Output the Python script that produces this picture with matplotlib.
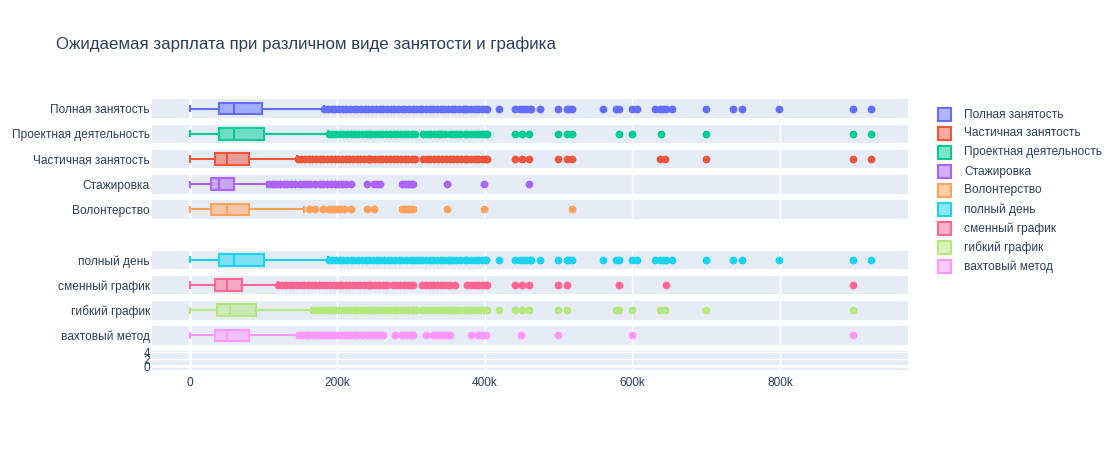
import matplotlib.pyplot as plt
from matplotlib.colors import to_rgba
from matplotlib.patches import Rectangle

plt.rcParams['font.family'] = ['Liberation Sans', 'DejaVu Sans']

TEXT = '#2a3f5f'
BG = '#E5ECF6'

title = 'Ожидаемая зарплата при различном виде занятости и графика'

# traces in legend order (salary in thousands)
names = ['Полная занятость', 'Частичная занятость', 'Проектная деятельность',
         'Стажировка', 'Волонтерство', 'полный день', 'сменный график',
         'гибкий график', 'вахтовый метод']
colors = ['#636efa', '#EF553B', '#00cc96', '#ab63fa', '#FFA15A',
          '#19d3f3', '#FF6692', '#B6E880', '#FF97FF']
slots = [0, 2, 1, 3, 4, 6, 7, 8, 9]

whis_lo = [0, 0, 0, 0, 0, 0, 0, 0, 0]
q1 = [39, 34, 39, 29, 29, 39, 34, 36, 34]
median = [60, 50, 60, 39, 50, 60, 50, 54, 50]
q3 = [98, 80, 100, 60, 80, 100, 70, 90, 80]
whis_hi = [182, 145, 187, 104, 154, 187, 119, 166, 145]

out_full = [182, 187, 192, 197, 202, 207, 212, 217, 222, 227, 232, 237, 242, 247, 252,
            257, 262, 267, 272, 277, 282, 287, 292, 297, 302, 307, 312,
            315, 320, 325, 330, 335, 340, 345, 350, 355, 360, 365, 370, 373,
            376, 381, 386, 391, 396, 400, 403,
            419, 441, 448, 451, 456, 461, 463, 475, 499, 511, 514, 518, 560, 578, 582,
            599, 606, 631, 637, 642, 646, 653, 700, 736, 749, 799, 899, 923]
out_part = [146, 151, 156, 161, 166, 171, 176, 181, 186, 191, 196, 201, 206, 211, 216,
            221, 226, 231, 236, 241, 243,
            246, 251, 256, 261, 266, 271, 276, 281, 286, 291, 296, 301, 305,
            316, 321, 326, 331, 336, 342, 347, 352, 357, 362, 367, 373,
            376, 381, 386, 391, 396, 400, 403,
            441, 450, 460, 499, 511, 518, 637, 644, 700, 899, 923]
out_proj = [188, 193, 198, 203, 208, 213, 218, 223, 228, 233, 238, 243,
            246, 251, 256, 261, 266, 271, 276, 281, 286, 291, 296, 301, 305,
            316, 321, 326, 331, 336, 341, 346, 352, 356, 361, 366, 373,
            376, 381, 386, 391, 396, 400, 403,
            441, 450, 460, 499, 511, 518, 582, 599, 639, 700, 899, 923]
out_intern = [107, 112, 117, 122, 127, 132, 137, 142, 149, 154, 159, 163, 170,
              176, 181, 186, 191, 196, 201, 206, 212, 219, 240, 249, 253, 258,
              288, 292, 296, 300, 303, 349, 399, 460]
out_volunteer = [162, 170, 180, 189, 193, 197, 201, 203, 209, 219, 240, 250,
                 287, 291, 295, 299, 303, 349, 399, 518]
out_fullday = [188, 193, 198, 203, 208, 213, 218, 223, 228, 233, 238, 243, 248, 253, 258,
               263, 268, 273, 278, 283, 288, 293, 298, 303, 307, 310,
               315, 320, 325, 330, 335, 340, 345, 350, 352, 356, 361, 366, 373,
               376, 381, 386, 391, 396, 400, 402,
               419, 441, 448, 451, 456, 461, 463, 475, 499, 511, 514, 518, 560, 578, 582,
               599, 606, 631, 637, 642, 646, 653, 700, 736, 749, 799, 899, 923]
out_shift = [120, 125, 130, 135, 140, 145, 150, 155, 160, 165, 170, 175, 180, 185, 190,
             195, 200, 203, 206, 211, 216, 221, 226, 231, 236, 241, 243,
             246, 251, 256, 262, 267, 275, 280, 285, 290, 295, 300, 303,
             315, 320, 325, 330, 335, 340, 345, 350, 352, 359,
             376, 381, 386, 391, 396, 400, 403,
             441, 450, 460, 499, 511, 582, 645, 899]
out_flex = [167, 172, 177, 182, 187, 192, 197, 202, 207, 212, 217, 222, 227, 232, 237, 243,
            246, 251, 256, 261, 266, 271, 276, 281, 286, 291, 296, 301, 303, 307,
            315, 320, 325, 330, 335, 340, 345, 350, 352, 356, 361, 366, 373,
            376, 381, 386, 391, 396, 400, 403,
            419, 441, 450, 460, 499, 511, 578, 582, 599, 637, 644, 700, 899]
out_shiftwork = [148, 152, 157, 162, 167, 172, 177, 182, 187, 192, 197, 202,
                 207, 212, 217, 222, 227, 233, 240, 246, 251, 256, 262, 278,
                 288, 293, 298, 302, 320, 330, 335, 340, 345, 350, 353, 381,
                 391, 396, 402, 449, 499, 599, 899]
outliers = [out_full, out_part, out_proj, out_intern, out_volunteer,
            out_fullday, out_shift, out_flex, out_shiftwork]

xticks = [0, 200, 400, 600, 800]
xtick_labels = ['0', '200k', '400k', '600k', '800k']
last_yticks = [0, 2, 4]

W, H = 1119, 450
fig = plt.figure(figsize=(W / 100, H / 100), dpi=100)

left, right = 152, 908
pitch, band_h, first_center = 25.2, 18.6, 108.6
FS = 8.6


def make_axes(slot):
    c = first_center + pitch * slot
    ax = fig.add_axes([left / W, 1 - (c + band_h / 2) / H,
                       (right - left) / W, band_h / H])
    ax.set_facecolor(BG)
    for s in ax.spines.values():
        s.set_visible(False)
    ax.set_xlim(-51.5, 973.6)
    ax.set_xticks(xticks)
    ax.grid(axis='x', color='white', linewidth=1, zorder=0)
    ax.axvline(0, color='white', linewidth=2, zorder=0.5)
    ax.set_axisbelow(True)
    ax.tick_params(length=0, labelsize=FS, labelcolor=TEXT, pad=1.5)
    return ax


for i, name in enumerate(names):
    ax = make_axes(slots[i])
    col = colors[i]
    stats = [dict(med=median[i], q1=q1[i], q3=q3[i], whislo=whis_lo[i],
                  whishi=whis_hi[i], fliers=outliers[i])]
    ax.bxp(stats, positions=[0], widths=0.62, capwidths=0.28,
           orientation='horizontal', patch_artist=True, showfliers=True,
           boxprops=dict(facecolor=to_rgba(col, 0.5), edgecolor=col, linewidth=1.5),
           medianprops=dict(color=col, linewidth=1.5),
           whiskerprops=dict(color=col, linewidth=1.5),
           capprops=dict(color=col, linewidth=1.5),
           flierprops=dict(marker='o', markersize=4.6, markerfacecolor=col,
                           markeredgecolor=col, linestyle='none'))
    ax.set_ylim(-0.5, 0.5)
    ax.set_yticks([0])
    ax.set_yticklabels([name])
    ax.set_xticklabels([])

# empty bottom subplot carrying the x axis
ax = make_axes(10)
ax.set_ylim(-1.1, 4.2)
ax.set_yticks(last_yticks)
ax.grid(axis='y', color='white', linewidth=1, zorder=0)
ax.axhline(0, color='white', linewidth=2, zorder=0.5)
ax.set_xticklabels(xtick_labels)
ax.tick_params(axis='x', pad=5)

fig.text(56 / W, 1 - 44.5 / H, title, fontsize=12.2, color=TEXT, va='center', ha='left')

# legend
for i, name in enumerate(names):
    cy = 114.5 + 19 * i
    fig.patches.append(Rectangle((938 / W, 1 - (cy + 6.5) / H), 12.5 / W, 13 / H,
                                 transform=fig.transFigure,
                                 facecolor=to_rgba(colors[i], 0.5),
                                 edgecolor=colors[i], linewidth=1.5))
    fig.text(964 / W, 1 - cy / H, name, fontsize=FS, color=TEXT, va='center', ha='left')

fig.savefig('out.png', dpi=100)
